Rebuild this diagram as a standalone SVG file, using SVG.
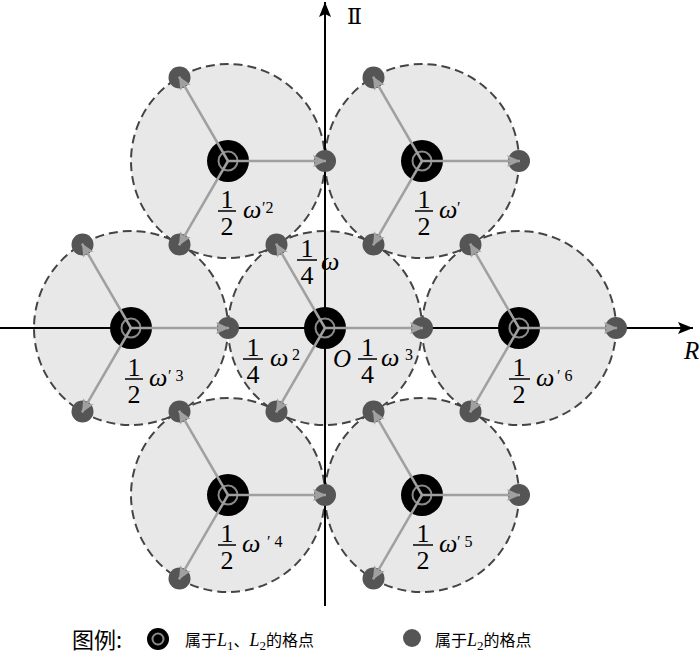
<svg xmlns="http://www.w3.org/2000/svg" width="700" height="661" viewBox="0 0 700 661">
<style>
.zone{fill:#e8e8e8;stroke:#444;stroke-width:2;stroke-dasharray:9 5}
.axis{stroke:#000;stroke-width:2;fill:none}
.arr{stroke:#a0a0a0;stroke-width:2.5;fill:none}
.big{fill:#000}
.ring{fill:none;stroke:#8a8a8a;stroke-width:2}
.dot{fill:#555}
.serif{font-family:"Liberation Serif","Times New Roman","DejaVu Serif",serif}
.num{font-family:"Liberation Serif","Times New Roman","DejaVu Serif",serif;font-size:26px;fill:#000;text-anchor:middle}
.w{font-family:"Liberation Serif","Times New Roman","DejaVu Serif",serif;font-style:italic;font-size:26px;fill:#000}
.sup{font-family:"Liberation Serif","Times New Roman","DejaVu Serif",serif;font-size:16px;fill:#000}
.bar{stroke:#000;stroke-width:1.5}
.it{font-family:"Liberation Serif","Times New Roman","DejaVu Serif",serif;font-style:italic;font-size:25px;fill:#000}
.leg{font-family:"Noto Sans CJK SC",sans-serif;font-size:16px;fill:#000}
.legL{font-family:"Liberation Serif","Times New Roman","DejaVu Serif",serif;font-style:italic;font-size:18px}
.legS{font-family:"Liberation Serif","Times New Roman","DejaVu Serif",serif;font-size:13px}
</style>
<defs>
<marker id="ga" markerUnits="userSpaceOnUse" markerWidth="14" markerHeight="12" refX="13" refY="6" orient="auto">
<path d="M0,0 L13,6 L0,12 L3,6 Z" fill="#a0a0a0"/>
</marker>
<marker id="ka" markerUnits="userSpaceOnUse" markerWidth="16" markerHeight="12" refX="15" refY="6" orient="auto">
<path d="M0,0 L15,6 L0,12 L3,6 Z" fill="#000"/>
</marker>
</defs>
<g id="zones">
<circle class="zone" cx="325" cy="328" r="97"/>
<circle class="zone" cx="228" cy="161" r="97"/>
<circle class="zone" cx="422" cy="161" r="97"/>
<circle class="zone" cx="131" cy="328" r="97"/>
<circle class="zone" cx="519" cy="328" r="97"/>
<circle class="zone" cx="228" cy="495" r="97"/>
<circle class="zone" cx="422" cy="495" r="97"/>
</g>
<g id="axes">
<line class="axis" x1="0" y1="328" x2="693" y2="328" marker-end="url(#ka)"/>
<line class="axis" x1="325" y1="606" x2="325" y2="2" marker-end="url(#ka)"/>
<text x="347" y="24" style="font-family:'DejaVu Serif','Liberation Serif',serif;font-size:22px">Ⅱ</text>
<text class="it" x="684" y="359">R</text>
</g>
<g id="dots">
<circle class="dot" cx="422" cy="328" r="11"/>
<circle class="dot" cx="276.5" cy="244.5" r="11"/>
<circle class="dot" cx="276.5" cy="411.5" r="11"/>
<circle class="dot" cx="325" cy="161" r="11"/>
<circle class="dot" cx="179.5" cy="77.5" r="11"/>
<circle class="dot" cx="179.5" cy="244.5" r="11"/>
<circle class="dot" cx="519" cy="161" r="11"/>
<circle class="dot" cx="373.5" cy="77.5" r="11"/>
<circle class="dot" cx="373.5" cy="244.5" r="11"/>
<circle class="dot" cx="228" cy="328" r="11"/>
<circle class="dot" cx="82.5" cy="244.5" r="11"/>
<circle class="dot" cx="82.5" cy="411.5" r="11"/>
<circle class="dot" cx="616" cy="328" r="11"/>
<circle class="dot" cx="470.5" cy="244.5" r="11"/>
<circle class="dot" cx="470.5" cy="411.5" r="11"/>
<circle class="dot" cx="325" cy="495" r="11"/>
<circle class="dot" cx="179.5" cy="411.5" r="11"/>
<circle class="dot" cx="179.5" cy="578.5" r="11"/>
<circle class="dot" cx="519" cy="495" r="11"/>
<circle class="dot" cx="373.5" cy="411.5" r="11"/>
<circle class="dot" cx="373.5" cy="578.5" r="11"/>
</g>
<g id="node-O">
<circle class="big" cx="325" cy="328" r="21"/>
<circle class="ring" cx="325" cy="328" r="9.5"/>
<text class="num" x="307" y="257">1</text>
<line class="bar" x1="297" y1="260" x2="317" y2="260"/>
<text class="num" x="307" y="284">4</text>
<text class="w" x="321" y="270">ω</text>
<text class="num" x="253" y="356">1</text>
<line class="bar" x1="243" y1="359" x2="263" y2="359"/>
<text class="num" x="253" y="383">4</text>
<text class="w" x="270" y="366">ω</text>
<text class="sup" x="292" y="360">2</text>
<text class="it" x="333" y="367">O</text>
<text class="num" x="367.5" y="356">1</text>
<line class="bar" x1="358" y1="359" x2="377" y2="359"/>
<text class="num" x="367.5" y="383">4</text>
<text class="w" x="381" y="366">ω</text>
<text class="sup" x="405" y="360">3</text>
</g>
<g id="node-UL" transform="translate(228,161)">
<circle class="big" r="21"/><circle class="ring" r="9.5"/>
<text class="num" x="-1" y="47">1</text>
<line class="bar" x1="-10" y1="50" x2="8" y2="50"/>
<text class="num" x="-1" y="74">2</text>
<text class="w" x="15" y="57">ω</text>
<text class="sup" x="34" y="52">′2</text>
</g>
<g id="node-UR" transform="translate(422,161)">
<circle class="big" r="21"/><circle class="ring" r="9.5"/>
<text class="num" x="2" y="47">1</text>
<line class="bar" x1="-7" y1="50" x2="11" y2="50"/>
<text class="num" x="2" y="74">2</text>
<text class="w" x="17" y="57">ω</text>
<text class="sup" x="35" y="52">′</text>
</g>
<g id="node-L" transform="translate(131,328)">
<circle class="big" r="21"/><circle class="ring" r="9.5"/>
<text class="num" x="3" y="48">1</text>
<line class="bar" x1="-6" y1="51" x2="12" y2="51"/>
<text class="num" x="3" y="75">2</text>
<text class="w" x="18" y="58">ω</text>
<text class="sup" x="37" y="53">′ 3</text>
</g>
<g id="node-R" transform="translate(519,328)">
<circle class="big" r="21"/><circle class="ring" r="9.5"/>
<text class="num" x="0" y="48">1</text>
<line class="bar" x1="-10" y1="51" x2="11" y2="51"/>
<text class="num" x="0" y="75">2</text>
<text class="w" x="17" y="58">ω</text>
<text class="sup" x="38" y="53">′ 6</text>
</g>
<g id="node-LL" transform="translate(228,495)">
<circle class="big" r="21"/><circle class="ring" r="9.5"/>
<text class="num" x="-1" y="47">1</text>
<line class="bar" x1="-10" y1="50" x2="8" y2="50"/>
<text class="num" x="-1" y="74">2</text>
<text class="w" x="14" y="57">ω</text>
<text class="sup" x="39" y="52">′ 4</text>
</g>
<g id="node-LR" transform="translate(422,495)">
<circle class="big" r="21"/><circle class="ring" r="9.5"/>
<text class="num" x="1" y="47">1</text>
<line class="bar" x1="-9" y1="50" x2="11" y2="50"/>
<text class="num" x="1" y="74">2</text>
<text class="w" x="17" y="57">ω</text>
<text class="sup" x="35" y="52">′ 5</text>
</g>
<g id="connectors">
<line class="arr" x1="325" y1="328" x2="423" y2="328" marker-end="url(#ga)"/>
<line class="arr" x1="325" y1="328" x2="276" y2="243.6" marker-end="url(#ga)"/>
<line class="arr" x1="325" y1="328" x2="276" y2="412.4" marker-end="url(#ga)"/>
<line class="arr" x1="228" y1="161" x2="326" y2="161" marker-end="url(#ga)"/>
<line class="arr" x1="228" y1="161" x2="179" y2="76.6" marker-end="url(#ga)"/>
<line class="arr" x1="228" y1="161" x2="179" y2="245.4" marker-end="url(#ga)"/>
<line class="arr" x1="422" y1="161" x2="520" y2="161" marker-end="url(#ga)"/>
<line class="arr" x1="422" y1="161" x2="373" y2="76.6" marker-end="url(#ga)"/>
<line class="arr" x1="422" y1="161" x2="373" y2="245.4" marker-end="url(#ga)"/>
<line class="arr" x1="131" y1="328" x2="229" y2="328" marker-end="url(#ga)"/>
<line class="arr" x1="131" y1="328" x2="82" y2="243.6" marker-end="url(#ga)"/>
<line class="arr" x1="131" y1="328" x2="82" y2="412.4" marker-end="url(#ga)"/>
<line class="arr" x1="519" y1="328" x2="617" y2="328" marker-end="url(#ga)"/>
<line class="arr" x1="519" y1="328" x2="470" y2="243.6" marker-end="url(#ga)"/>
<line class="arr" x1="519" y1="328" x2="470" y2="412.4" marker-end="url(#ga)"/>
<line class="arr" x1="228" y1="495" x2="326" y2="495" marker-end="url(#ga)"/>
<line class="arr" x1="228" y1="495" x2="179" y2="410.6" marker-end="url(#ga)"/>
<line class="arr" x1="228" y1="495" x2="179" y2="579.4" marker-end="url(#ga)"/>
<line class="arr" x1="422" y1="495" x2="520" y2="495" marker-end="url(#ga)"/>
<line class="arr" x1="422" y1="495" x2="373" y2="410.6" marker-end="url(#ga)"/>
<line class="arr" x1="422" y1="495" x2="373" y2="579.4" marker-end="url(#ga)"/>
</g>
<g id="legend">
<text x="72" y="648" style="font-family:'Noto Sans CJK SC',sans-serif;font-size:22px">图例:</text>
<circle class="big" cx="158" cy="639" r="11"/>
<circle class="ring" cx="158" cy="639" r="5.5" stroke-width="1.5"/>
<text class="leg" x="185" y="646">属于<tspan class="legL">L</tspan><tspan class="legS" dy="4">1</tspan><tspan dy="-4">、</tspan><tspan class="legL">L</tspan><tspan class="legS" dy="4">2</tspan><tspan dy="-4">的格点</tspan></text>
<circle class="dot" cx="412" cy="638" r="9"/>
<text class="leg" x="435" y="646">属于<tspan class="legL">L</tspan><tspan class="legS" dy="4">2</tspan><tspan dy="-4">的格点</tspan></text>
</g>
</svg>
